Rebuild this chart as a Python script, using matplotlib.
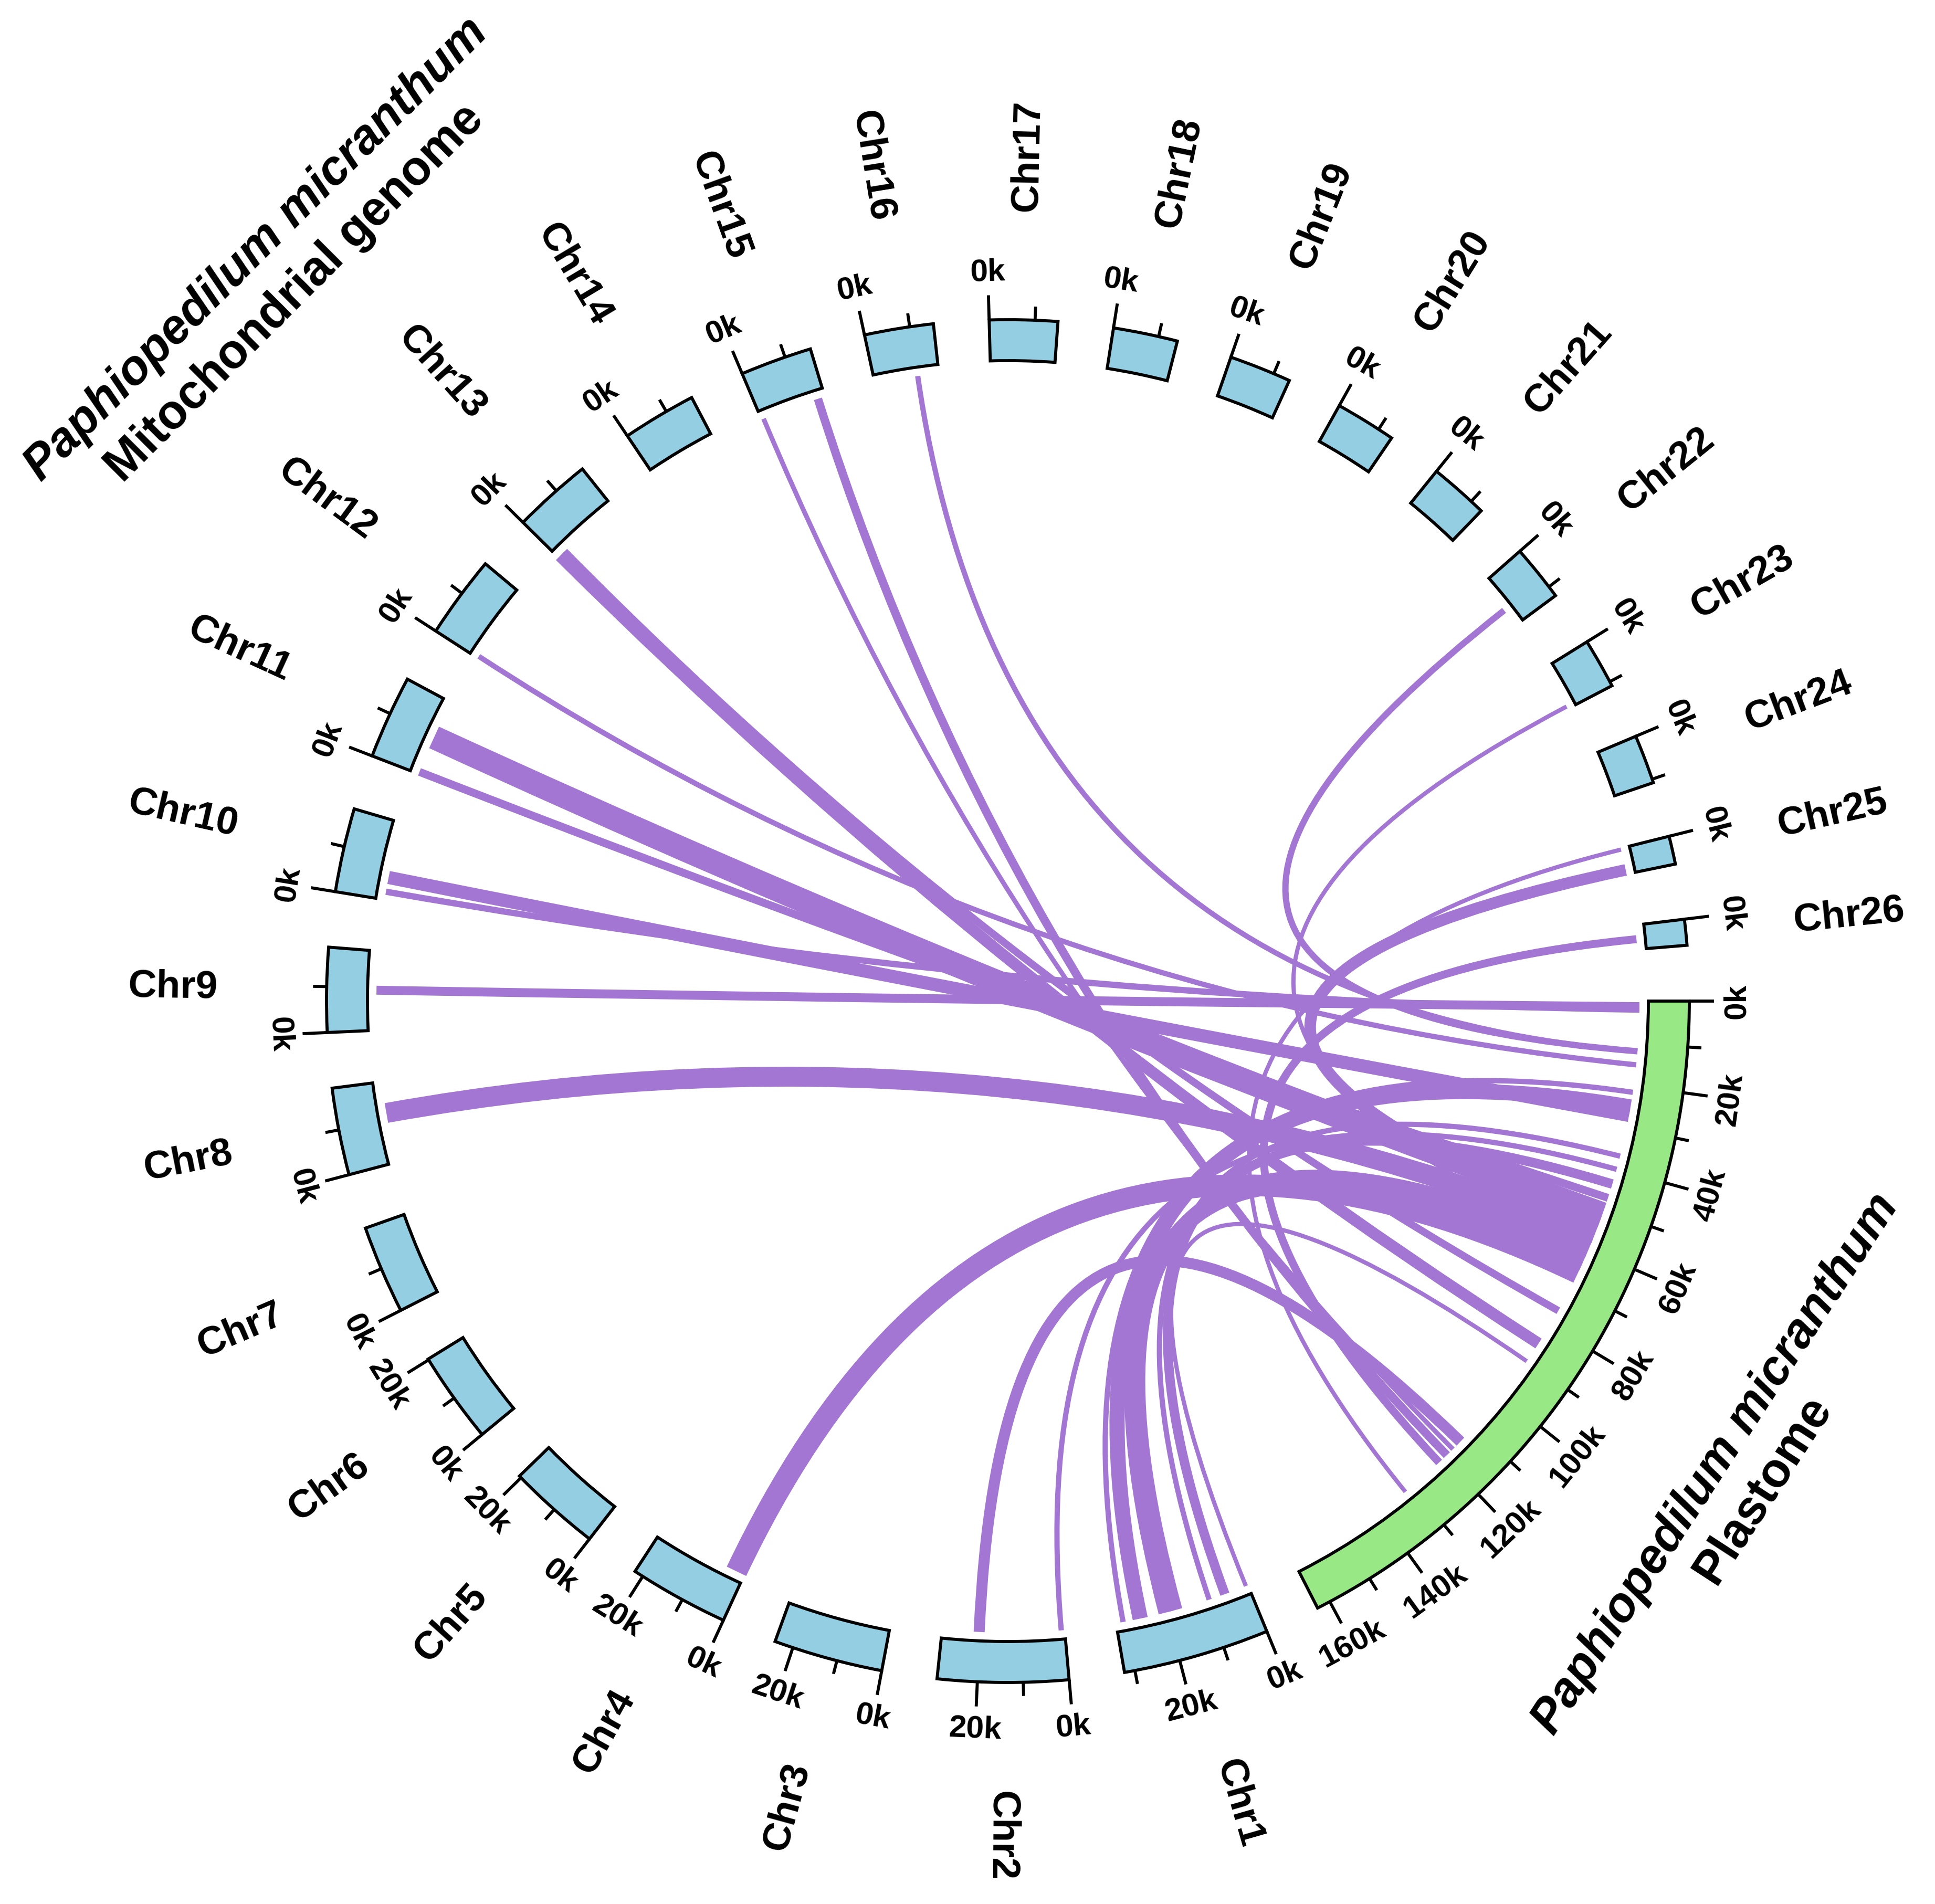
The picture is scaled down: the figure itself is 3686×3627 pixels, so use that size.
import numpy as np
import matplotlib
matplotlib.use("Agg")
import matplotlib.pyplot as plt
from matplotlib.patches import Wedge, PathPatch
from matplotlib.path import Path

# ---------------- data ----------------
mito_names = [f"Chr{i}" for i in range(1, 27)]
mito_len_kb = [32.3, 28.8, 24.1, 22.0, 20.5, 20.2, 19.5, 19.2, 18.6, 18.5, 18.4, 18.2, 17.4,
               16.3, 15.8, 15.2, 15.0, 14.2, 13.7, 13.4, 13.0, 12.4, 11.0, 10.8, 6.2, 5.7]
plastome_name = "Plastome"
plastome_len_kb = 163.0

# links: mito chromosome, position on it (kb), position on plastome (kb), width
link_chr = ["Chr1", "Chr1", "Chr1", "Chr1", "Chr1", "Chr1", "Chr1",
            "Chr2", "Chr2", "Chr4", "Chr8", "Chr9", "Chr10", "Chr10",
            "Chr11", "Chr11", "Chr12", "Chr13", "Chr13", "Chr15", "Chr15",
            "Chr16", "Chr22", "Chr23", "Chr25", "Chr25", "Chr26"]
link_mito_kb = [30.6, 26.5, 18.2, 20.2, 9.7, 5.8, 0.5,
                20.1, 0.8, 2.0, 11.8, 9.4, 5.3, 1.9,
                9.3, 0.5, 0.5, 0.5, 2.0, 14.1, 0.5,
                10.2, 8.0, 10.4, 0.3, 5.2, 3.3]
link_plast_kb = [21.5, 25.0, 60.0, 63.5, 36.8, 43.6, 90.0,
                 114.5, 40.0, 66.0, 56.0, 1.3, 27.0, 2.0,
                 51.0, 47.0, 15.0, 85.0, 76.0, 119.0, 117.0,
                 11.8, 11.8, 58.0, 132.0, 53.0, 121.5]
link_width = [10, 29, 30, 30, 10, 18, 8,
              21, 10, 41, 38, 17, 25, 12,
              45, 15, 10, 22, 14, 16, 9,
              10, 12, 8, 8, 22, 15]

# ---------------- layout ----------------
W, H, DPI = 3686, 3627, 300
PT = DPI / 72.0
cx, cy = 1920.0, H - 1907.0
R_OUT, R_IN, R_LINK = 1298.0, 1220.0, 1203.0
GAP = 4.7

C_MITO = "#94CEE3"
C_PLAST = "#98E986"
C_LINK = "#A276D2"

sectors = [(plastome_name, plastome_len_kb)] + list(zip(mito_names, mito_len_kb))
total = sum(L for _, L in sectors)
dpk = (360.0 - GAP * len(sectors)) / total
starts = {}
a = 0.0
for name, L in sectors:
    starts[name] = a
    a = a - L * dpk - GAP


def xy(r, th):
    t = np.deg2rad(th)
    return cx + r * np.cos(t), cy + r * np.sin(t)


plt.rcParams["font.family"] = ["Liberation Sans", "DejaVu Sans"]
fig = plt.figure(figsize=(W / DPI, H / DPI), dpi=DPI)
ax = fig.add_axes([0, 0, 1, 1])
ax.set_xlim(0, W)
ax.set_ylim(0, H)
ax.set_aspect("equal")
ax.axis("off")

# ---------------- links ----------------
for ch, mp, pp, w in zip(link_chr, link_mito_kb, link_plast_kb, link_width):
    ta = starts[ch] - mp * dpk
    tb = starts[plastome_name] - pp * dpk
    A = xy(R_LINK, ta)
    B = xy(R_LINK, tb)
    path = Path([A, (cx, cy), B], [Path.MOVETO, Path.CURVE3, Path.CURVE3])
    ax.add_patch(PathPatch(path, fill=False, edgecolor=C_LINK, lw=w / PT,
                           capstyle="butt", joinstyle="round", zorder=1))

# ---------------- sectors, ticks, labels ----------------
tick_font = dict(family=["Liberation Sans Narrow", "Liberation Sans", "DejaVu Sans"],
                 weight="bold", size=14.5)
for name, L in sectors:
    s = starts[name]
    e = s - L * dpk
    col = C_PLAST if name == plastome_name else C_MITO
    ax.add_patch(Wedge((cx, cy), R_OUT, e, s, width=R_OUT - R_IN, facecolor=col,
                       edgecolor="black", lw=1.4, zorder=3))
    pos = 0
    while pos <= L + 1e-9:
        th = s - pos * dpk
        major = (pos % 20 == 0)
        tl = 47 if major else 26
        x0, y0 = xy(R_OUT, th)
        x1, y1 = xy(R_OUT + tl, th)
        ax.plot([x0, x1], [y0, y1], color="black", lw=1.4, solid_capstyle="butt", zorder=3)
        if major:
            xl, yl = xy(R_OUT + 47 + 16, th)
            if np.sin(np.deg2rad(th)) > 1e-6:
                rot, va = th - 90, "bottom"
            else:
                rot, va = th + 90, "top"
            ax.text(xl, yl, f"{pos}k", rotation=rot, rotation_mode="anchor",
                    ha="center", va=va, zorder=4, **tick_font)
        pos += 10
    if name != plastome_name:
        tm = (s + e) / 2.0
        xl, yl = xy(1505, tm)
        if np.cos(np.deg2rad(tm)) >= -0.05:
            rot, ha = tm, "left"
        else:
            rot, ha = tm + 180, "right"
        rot = (rot + 180) % 360 - 180
        ax.text(xl, yl, name, rotation=rot, rotation_mode="anchor", ha=ha, va="center",
                fontsize=18, fontweight="bold", zorder=4)

# ---------------- titles ----------------
title_kw = dict(ha="center", va="center", rotation_mode="anchor", fontsize=22, fontweight="bold")
x, y = xy(2024, 135.0)
ax.text(x, y, "Paphiopedilum micranthum", rotation=45, style="italic", **title_kw)
x, y = xy(1913, 135.2)
ax.text(x, y, "Mitochondrial genome", rotation=45, **title_kw)
x, y = xy(1612, -33.2)
ax.text(x, y, "Paphiopedilum micranthum", rotation=57.0, style="italic", **title_kw)
x, y = xy(1714, -32.9)
ax.text(x, y, "Plastome", rotation=57.0, **title_kw)

fig.savefig("out.png", dpi=DPI, facecolor="white")
